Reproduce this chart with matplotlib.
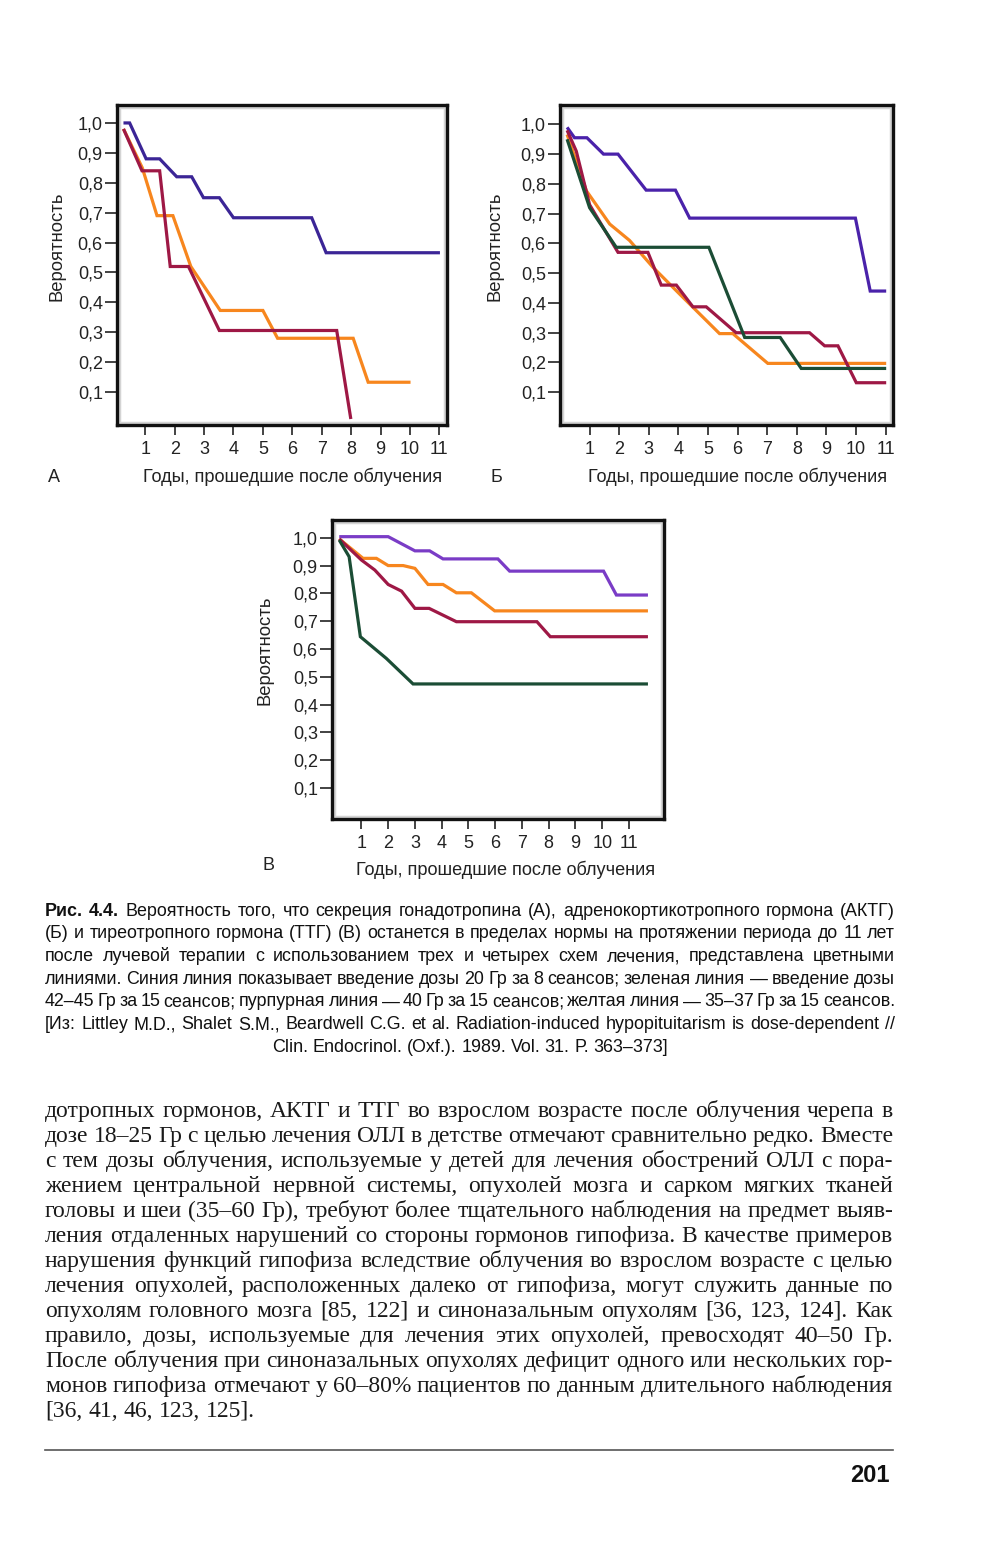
import matplotlib
matplotlib.use('Agg')
import matplotlib.pyplot as plt
from matplotlib import font_manager
from matplotlib.patches import Rectangle

# Chart A: gonadotropin
a_blue_x = [0.26, 0.47, 1.03, 1.49, 2.07, 2.58, 2.98, 3.52, 4.0, 6.66, 7.15, 11.02]
a_blue_y = [1.0, 1.0, 0.88, 0.88, 0.82, 0.82, 0.75, 0.75, 0.683, 0.683, 0.566, 0.566]
a_orange_x = [0.26, 0.9, 1.4, 1.94, 2.55, 3.55, 5.0, 5.5, 8.07, 8.58, 10.02]
a_orange_y = [0.98, 0.85, 0.69, 0.69, 0.52, 0.373, 0.373, 0.28, 0.28, 0.133, 0.133]
a_red_x = [0.26, 0.89, 1.49, 1.85, 2.47, 3.52, 7.51, 7.99]
a_red_y = [0.98, 0.84, 0.84, 0.52, 0.52, 0.306, 0.306, 0.01]

# Chart B: ACTH
b_blue_x = [0.24, 0.49, 0.91, 1.47, 1.96, 2.91, 3.9, 4.38, 9.98, 10.48, 11.02]
b_blue_y = [0.99, 0.955, 0.955, 0.90, 0.90, 0.779, 0.779, 0.685, 0.685, 0.44, 0.44]
b_green_x = [0.24, 1.0, 1.9, 5.03, 6.24, 7.44, 8.15, 11.02]
b_green_y = [0.95, 0.72, 0.587, 0.587, 0.284, 0.284, 0.18, 0.18]
b_orange_x = [0.24, 0.89, 1.68, 2.35, 3.14, 4.04, 5.39, 5.84, 7.02, 11.02]
b_orange_y = [0.966, 0.777, 0.665, 0.61, 0.52, 0.43, 0.297, 0.297, 0.197, 0.197]
b_red_x = [0.24, 0.55, 1.0, 1.96, 2.97, 3.42, 3.93, 4.49, 4.94, 5.95, 8.43, 8.94, 9.39, 10.01, 11.02]
b_red_y = [0.98, 0.91, 0.73, 0.57, 0.57, 0.46, 0.46, 0.387, 0.387, 0.30, 0.30, 0.256, 0.256, 0.132, 0.132]

# Chart C: TSH
c_purple_x = [0.17, 2.0, 3.0, 3.55, 4.05, 6.1, 6.54, 10.05, 10.53, 11.71]
c_purple_y = [1.004, 1.004, 0.953, 0.953, 0.924, 0.924, 0.88, 0.88, 0.794, 0.794]
c_orange_x = [0.17, 1.06, 1.56, 2.0, 2.56, 3.0, 3.49, 4.05, 4.55, 5.11, 5.98, 11.71]
c_orange_y = [0.996, 0.926, 0.926, 0.90, 0.90, 0.89, 0.832, 0.832, 0.802, 0.802, 0.737, 0.737]
c_red_x = [0.17, 1.0, 1.5, 2.0, 2.5, 3.0, 3.53, 4.55, 7.56, 8.06, 11.71]
c_red_y = [0.996, 0.92, 0.884, 0.832, 0.808, 0.746, 0.746, 0.698, 0.698, 0.644, 0.644]
c_green_x = [0.17, 0.54, 0.96, 1.93, 2.93, 11.71]
c_green_y = [0.992, 0.932, 0.644, 0.566, 0.474, 0.474]

y_ticks = [0.1, 0.2, 0.3, 0.4, 0.5, 0.6, 0.7, 0.8, 0.9, 1.0]
y_labels = ['0,1', '0,2', '0,3', '0,4', '0,5', '0,6', '0,7', '0,8', '0,9', '1,0']
x_ticks = list(range(1, 12))

y_label = 'Вероятность'
x_label = 'Годы, прошедшие после облучения'

caption_lines = [
    'Рис. 4.4. Вероятность того, что секреция гонадотропина (А), адренокортикотропного гормона (АКТГ)',
    '(Б) и тиреотропного гормона (ТТГ) (В) останется в пределах нормы на протяжении периода до 11 лет',
    'после лучевой терапии с использованием трех и четырех схем лечения, представлена цветными',
    'линиями. Синия линия показывает введение дозы 20 Гр за 8 сеансов; зеленая линия — введение дозы',
    '42–45 Гр за 15 сеансов; пурпурная линия — 40 Гр за 15 сеансов; желтая линия — 35–37 Гр за 15 сеансов.',
    '[Из: Littley M.D., Shalet S.M., Beardwell C.G. et al. Radiation-induced hypopituitarism is dose-dependent //',
    'Clin. Endocrinol. (Oxf.). 1989. Vol. 31. P. 363–373]',
]

body_lines = [
    'дотропных гормонов, АКТГ и ТТГ во взрослом возрасте после облучения черепа в',
    'дозе 18–25 Гр с целью лечения ОЛЛ в детстве отмечают сравнительно редко. Вместе',
    'с тем дозы облучения, используемые у детей для лечения обострений ОЛЛ с пора-',
    'жением центральной нервной системы, опухолей мозга и сарком мягких тканей',
    'головы и шеи (35–60 Гр), требуют более тщательного наблюдения на предмет выяв-',
    'ления отдаленных нарушений со стороны гормонов гипофиза. В качестве примеров',
    'нарушения функций гипофиза вследствие облучения во взрослом возрасте с целью',
    'лечения опухолей, расположенных далеко от гипофиза, могут служить данные по',
    'опухолям головного мозга [85, 122] и синоназальным опухолям [36, 123, 124]. Как',
    'правило, дозы, используемые для лечения этих опухолей, превосходят 40–50 Гр.',
    'После облучения при синоназальных опухолях дефицит одного или нескольких гор-',
    'монов гипофиза отмечают у 60–80% пациентов по данным длительного наблюдения',
    '[36, 41, 46, 123, 125].',
]

installed = {f.name for f in font_manager.fontManager.ttflist}
narrow = 'Liberation Sans Narrow' if 'Liberation Sans Narrow' in installed else 'Liberation Sans'
sans = 'Liberation Sans'
serif = 'Liberation Serif'

BLUE = '#3b2596'
PURPLE = '#7a3cc6'
ORANGE = '#f7861e'
RED = '#9e1845'
GREEN = '#1b4d35'

W, H = 1000, 1548
fig = plt.figure(figsize=(W / 100, H / 100), dpi=100)
fig.patch.set_facecolor('white')

# full-page overlay in pixel coordinates for free text
page = fig.add_axes([0, 0, 1, 1], zorder=0)
page.set_xlim(0, W)
page.set_ylim(H, 0)
page.axis('off')
page.patch.set_alpha(0)


def chart(left, top, right, bottom, xlim, ylim, series):
    ax = fig.add_axes([left / W, 1 - bottom / H, (right - left) / W, (bottom - top) / H], zorder=2)
    for xs, ys, col in series:
        ax.plot(xs, ys, color=col, lw=2.3, solid_joinstyle='miter', solid_capstyle='butt')
    ax.set_xlim(*xlim)
    ax.set_ylim(*ylim)
    ax.set_yticks(y_ticks)
    ax.set_yticklabels(y_labels)
    ax.set_xticks(x_ticks)
    ax.set_xticklabels([str(t) for t in x_ticks])
    for lab in ax.get_xticklabels() + ax.get_yticklabels():
        lab.set_family(sans)
        lab.set_fontsize(13)
        lab.set_color('#222222')
    ax.tick_params(axis='x', direction='out', length=7.5, width=1.2, pad=4, color='#222222')
    ax.tick_params(axis='y', direction='out', length=9, width=1.2, pad=1.2, color='#222222')
    for sp in ax.spines.values():
        sp.set_linewidth(2.4)
        sp.set_color('#111111')
    # faint inner shadow of the printed frame
    ax.add_patch(Rectangle((0.006, 0.006), 0.988, 0.988, transform=ax.transAxes, fill=False,
                           ec='#d4d4d4', lw=2.5, zorder=0))
    return ax


chart(117, 105, 447, 425, (0.04, 11.26), (-0.01, 1.06),
      [(a_blue_x, a_blue_y, BLUE), (a_orange_x, a_orange_y, ORANGE), (a_red_x, a_red_y, RED)])
chart(560, 105, 893, 425, (0.0, 11.25), (-0.01, 1.065),
      [(b_blue_x, b_blue_y, '#4a22aa'), (b_orange_x, b_orange_y, ORANGE),
       (b_red_x, b_red_y, RED), (b_green_x, b_green_y, GREEN)])
chart(332, 520, 664, 819, (-0.1, 12.31), (-0.012, 1.064),
      [(c_purple_x, c_purple_y, PURPLE), (c_orange_x, c_orange_y, ORANGE),
       (c_red_x, c_red_y, RED), (c_green_x, c_green_y, GREEN)])

# axis titles and panel letters
for (yx, yy), (xx, xy), (lx, ly, letter) in [((57, 246), (293, 477), (48, 477, 'А')),
                                             ((495, 246), (738, 477), (490, 477, 'Б')),
                                             ((265, 650), (506, 870), (262, 866, 'В'))]:
    page.text(yx, yy, y_label, rotation=90, ha='center', va='center', family=sans, fontsize=13.3, color='#222222')
    page.text(xx, xy, x_label, ha='center', va='center', family=sans, fontsize=13.1, color='#222222')
    page.text(lx, ly, letter, ha='left', va='center', family=sans, fontsize=13, color='#222222')

renderer = fig.canvas.get_renderer()


def word_widths(words, size, family, bold_first=0):
    out = []
    for i, w in enumerate(words):
        t = page.text(0, 0, w, family=family, fontsize=size,
                      weight='bold' if i < bold_first else 'normal')
        out.append(t.get_window_extent(renderer).width)
        t.remove()
    return out


def block_size(lines, x0, x1, size, family, bold_first=0):
    # one font size for the whole block, small enough for the tightest justified line
    while True:
        ok = True
        for i, line in enumerate(lines):
            words = line.split()
            ws = word_widths(words, size, family, bold_first if i == 0 else 0)
            if sum(ws) + size * 100 / 72 * 0.16 * (len(words) - 1) > x1 - x0:
                ok = False
                break
        if ok:
            return size
        size *= 0.985


def set_line(words, y, x0, x1, size, family, mode, bold_first=0, color='#111111'):
    widths = word_widths(words, size, family, bold_first)
    space = size * 100 / 72 * 0.25
    if mode == 'justify':
        gap = (x1 - x0 - sum(widths)) / max(len(words) - 1, 1)
        x = x0
    else:
        gap = space
        total = sum(widths) + gap * (len(words) - 1)
        x = x0 if mode == 'left' else (x0 + x1) / 2 - total / 2
    for i, (w, wd) in enumerate(zip(words, widths)):
        page.text(x, y, w, family=family, fontsize=size, va='baseline', ha='left',
                  weight='bold' if i < bold_first else 'normal', color=color)
        x += wd + gap


cap_size = block_size(caption_lines[:-1], 45, 895, 13.5, narrow, bold_first=2)
for i, line in enumerate(caption_lines):
    mode = 'center' if i == len(caption_lines) - 1 else 'justify'
    set_line(line.split(), 915.7 + 22.67 * i, 45, 895, cap_size, narrow, mode, bold_first=2 if i == 0 else 0)

body_size = block_size(body_lines[:-1], 45, 893, 17, serif)
for i, line in enumerate(body_lines):
    mode = 'left' if i == len(body_lines) - 1 else 'justify'
    set_line(line.split(), 1116.7 + 25.0 * i, 45, 893, body_size, serif, mode, color='#1a1a1a')

page.plot([45, 893], [1450, 1450], color='#555555', lw=1.2)
page.text(890, 1482, '201', ha='right', va='baseline', family=narrow, weight='bold', fontsize=17, color='#111111')

fig.savefig('out.png', dpi=100, facecolor='white')
